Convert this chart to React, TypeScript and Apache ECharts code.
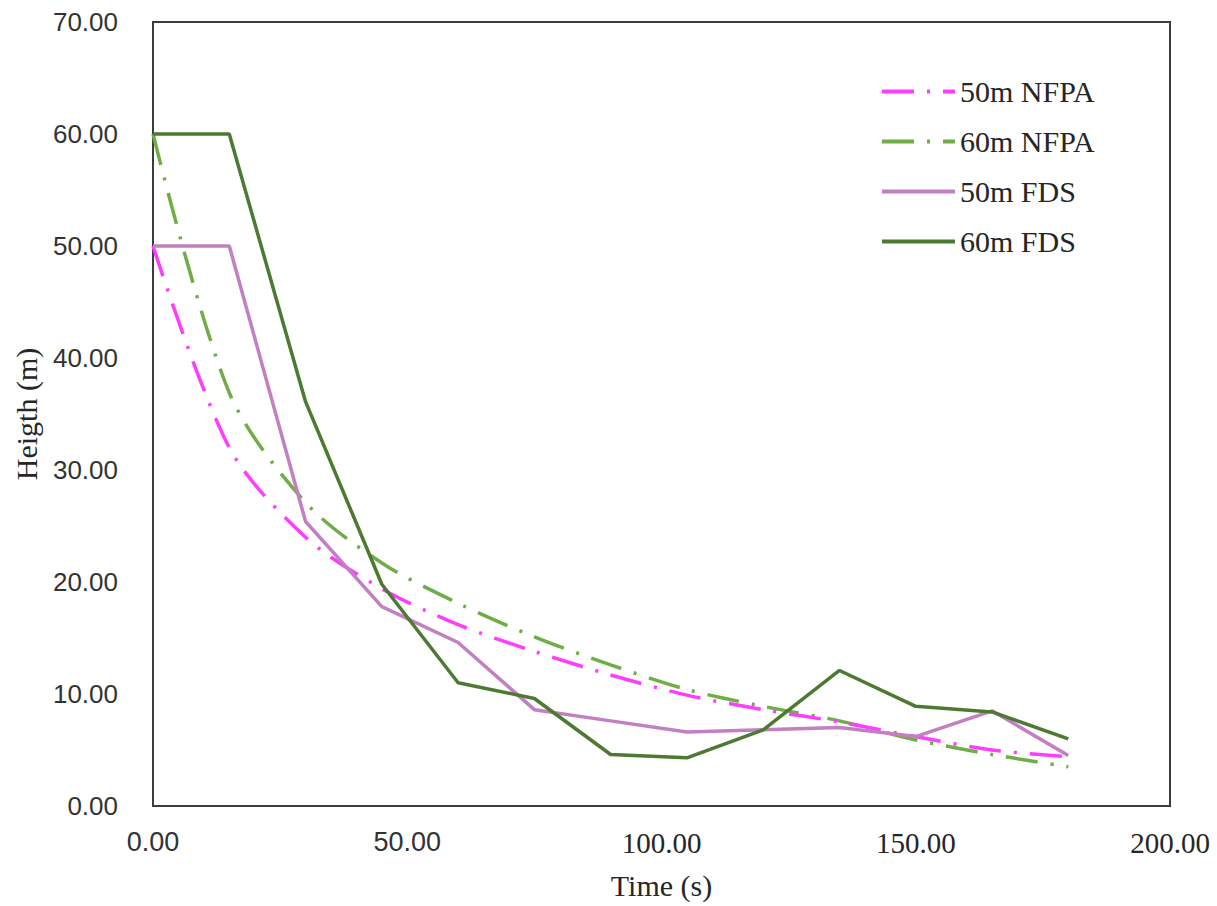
import React, { useEffect, useRef } from "react";
import * as echarts from "echarts";

// Sampling instants (s)
const times = [0, 15, 30, 45, 60, 75, 90, 105, 120, 135, 150, 165, 180];

// Smoke layer height (m)
const nfpa50 = [50, 32.0, 24.0, 19.4, 16.2, 13.8, 11.7, 9.9, 8.6, 7.5, 6.2, 5.0, 4.4];
const nfpa60 = [60, 36.9, 27.1, 21.7, 18.1, 15.1, 12.6, 10.4, 8.9, 7.6, 5.9, 4.6, 3.5];
const fds50 = [50, 50, 25.4, 17.8, 14.6, 8.6, 7.6, 6.6, 6.8, 7.0, 6.2, 8.5, 4.5];
const fds60 = [60, 60, 36.1, 19.8, 11.0, 9.6, 4.6, 4.3, 6.8, 12.1, 8.9, 8.4, 6.0];

const seriesNames = ["50m NFPA", "60m NFPA", "50m FDS", "60m FDS"];

const pairs = (ys: number[]) => times.map((t, i) => [t, ys[i]]);

const SERIF = "'Liberation Serif', 'Times New Roman', serif";
const SANS = "'Liberation Sans', Arial, sans-serif";
const dashDot = [32, 13, 3, 13];

export default function App() {
  const ref = useRef<HTMLDivElement>(null);

  useEffect(() => {
    if (!ref.current) return;
    const chart = echarts.init(ref.current, undefined, { renderer: "svg" });
    chart.setOption({
      animation: false,
      backgroundColor: "#ffffff",
      grid: {
        left: 153,
        right: 47,
        top: 22,
        bottom: 100,
        show: true,
        borderColor: "#3c3c3c",
        borderWidth: 2,
      },
      legend: {
        orient: "vertical",
        left: 875,
        top: 71,
        itemWidth: 73,
        itemHeight: 16,
        itemGap: 19,
        data: seriesNames,
        itemStyle: { opacity: 0 },
        lineStyle: { width: 4 },
        textStyle: {
          fontFamily: SERIF,
          fontSize: 30,
          lineHeight: 31,
          color: "#262626",
        },
      },
      xAxis: {
        type: "value",
        min: 0,
        max: 200,
        interval: 50,
        name: "Time (s)",
        nameLocation: "middle",
        nameGap: 64,
        nameTextStyle: { fontFamily: SERIF, fontSize: 30, color: "#262626" },
        axisLine: { show: false },
        axisTick: { show: false },
        splitLine: { show: false },
        axisLabel: {
          margin: 22,
          formatter: (v: number) => (v < 100 ? `{s|${v.toFixed(2)}}` : `{t|${v.toFixed(2)}}`),
          rich: {
            s: { fontFamily: SANS, fontSize: 27, color: "#333333" },
            t: { fontFamily: SERIF, fontSize: 29, color: "#262626" },
          },
        },
      },
      yAxis: {
        type: "value",
        min: 0,
        max: 70,
        interval: 10,
        name: "Heigth (m)",
        nameLocation: "middle",
        nameRotate: 90,
        nameGap: 112,
        nameTextStyle: { fontFamily: SERIF, fontSize: 30, color: "#262626" },
        axisLine: { show: false },
        axisTick: { show: false },
        splitLine: { show: false },
        axisLabel: {
          margin: 35,
          fontFamily: SANS,
          fontSize: 26,
          color: "#333333",
          formatter: (v: number) => v.toFixed(2),
        },
      },
      series: [
        {
          name: seriesNames[0],
          type: "line",
          data: pairs(nfpa50),
          smooth: 0.3,
          symbol: "none",
          z: 3,
          lineStyle: { color: "#ff3cff", width: 3.5, type: dashDot },
          itemStyle: { color: "#ff3cff" },
        },
        {
          name: seriesNames[1],
          type: "line",
          data: pairs(nfpa60),
          smooth: 0.3,
          symbol: "none",
          z: 2,
          lineStyle: { color: "#70ad47", width: 3.5, type: dashDot },
          itemStyle: { color: "#70ad47" },
        },
        {
          name: seriesNames[2],
          type: "line",
          data: pairs(fds50),
          symbol: "none",
          lineStyle: { color: "#c27fc2", width: 3.5 },
          itemStyle: { color: "#c27fc2" },
        },
        {
          name: seriesNames[3],
          type: "line",
          data: pairs(fds60),
          symbol: "none",
          lineStyle: { color: "#4b7a30", width: 3.5 },
          itemStyle: { color: "#4b7a30" },
        },
      ],
    });
    return () => chart.dispose();
  }, []);

  return (
    <div
      ref={ref}
      style={{ position: "fixed", left: 0, top: 0, width: 1217, height: 906, background: "#fff" }}
    />
  );
}
